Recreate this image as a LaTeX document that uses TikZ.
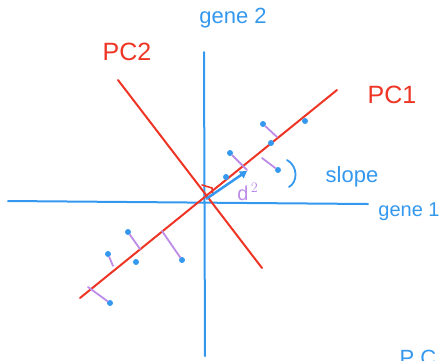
\documentclass[tikz,border=0pt]{standalone}
\usepackage{fontspec}
\setmainfont{Liberation Sans}
\usepackage{tikz}
\usetikzlibrary{arrows.meta}
\definecolor{penred}{RGB}{238,52,36}
\definecolor{penblue}{RGB}{52,152,238}
\definecolor{penpurple}{RGB}{188,140,232}
\tikzset{
  axisline/.style={penblue, line width=2pt, line cap=round},
  pcline/.style={penred, line width=2pt, line cap=round},
  projline/.style={penpurple, line width=1.8pt, line cap=round},
  datapt/.style={circle, fill=penblue, inner sep=0pt, minimum size=6pt},
  bluetext/.style={penblue, font=\fontsize{22}{24}\selectfont, inner sep=0pt},
  redtext/.style={penred, font=\fontsize{25}{27}\selectfont, inner sep=0pt}
}
\begin{document}
\begin{tikzpicture}[x=1pt, y=-1pt]
  \useasboundingbox (0,0) rectangle (442,360);
  % axes
  \coordinate (g1w) at (8,201);
  \coordinate (g1e) at (368,204);
  \coordinate (g2n) at (204,52);
  \coordinate (g2s) at (205,356);
  \draw[axisline] (g1w) -- (g1e);
  \draw[axisline] (g2n) -- (g2s);
  \node[bluetext, font=\fontsize{20}{22}\selectfont] (g1lab) at (409,212) {gene 1};
  \node[bluetext] (g2lab) at (233,18) {gene 2};
  % principal components
  \coordinate (pc1a) at (80,298);
  \coordinate (pc1b) at (337,90);
  \coordinate (pc2a) at (118,80);
  \coordinate (pc2b) at (262,268);
  \draw[pcline] (pc1a) -- (pc1b);
  \draw[pcline] (pc2a) -- (pc2b);
  \node[redtext] (pc1lab) at (392,95) {PC1};
  \node[redtext] (pc2lab) at (127,52) {PC2};
  % right angle and unit vector
  \coordinate (o) at (206,199);
  \coordinate (u) at (247,171);
  \coordinate (ra1) at (202,185);
  \coordinate (ra2) at (212,188);
  \coordinate (ra3) at (213,195);
  \draw[penred, line width=1.6pt, line cap=round] (ra1) -- (ra2) -- (ra3);
  \draw[penblue, line width=2.5pt, -{Triangle[length=7pt, width=8pt]}] (o) -- (u);
  \node[penpurple, font=\fontsize{20}{22}\selectfont, inner sep=0pt] (dlab) at (248,192) {d$^{\,2}$};
  % slope bracket
  \coordinate (br1) at (287,160);
  \coordinate (br2) at (289,187);
  \draw[penblue, line width=1.8pt, line cap=round] (br1) .. controls (298,166) and (298,182) .. (br2);
  \node[bluetext] (slopelab) at (352,177) {slope};
  % data points and their projections
  \node[datapt] (p1) at (263,124) {};
  \coordinate (f1) at (277,137);
  \node[datapt] (p2) at (271,143) {};
  \node[datapt] (p3) at (305,121) {};
  \node[datapt] (p4) at (230,153) {};
  \coordinate (f4) at (247,170);
  \node[datapt] (p5) at (278,170) {};
  \coordinate (f5) at (262,158);
  \node[datapt] (p6) at (226,177) {};
  \node[datapt] (p7) at (128,232) {};
  \coordinate (f7) at (140,249);
  \node[datapt] (p8) at (182,260) {};
  \coordinate (f8) at (162,231);
  \node[datapt] (p9) at (108,254) {};
  \coordinate (f9) at (113,266);
  \node[datapt] (p10) at (136,262) {};
  \node[datapt] (p11) at (110,303) {};
  \coordinate (f11) at (88,287);
  \foreach \p/\f in {p1/f1, p4/f4, p5/f5, p7/f7, p8/f8, p9/f9, p11/f11}
    \draw[projline] (\p) -- (\f);
  % cut-off label at the bottom edge
  \node[bluetext] (pclab) at (418,358) {P C};
\end{tikzpicture}
\end{document}
